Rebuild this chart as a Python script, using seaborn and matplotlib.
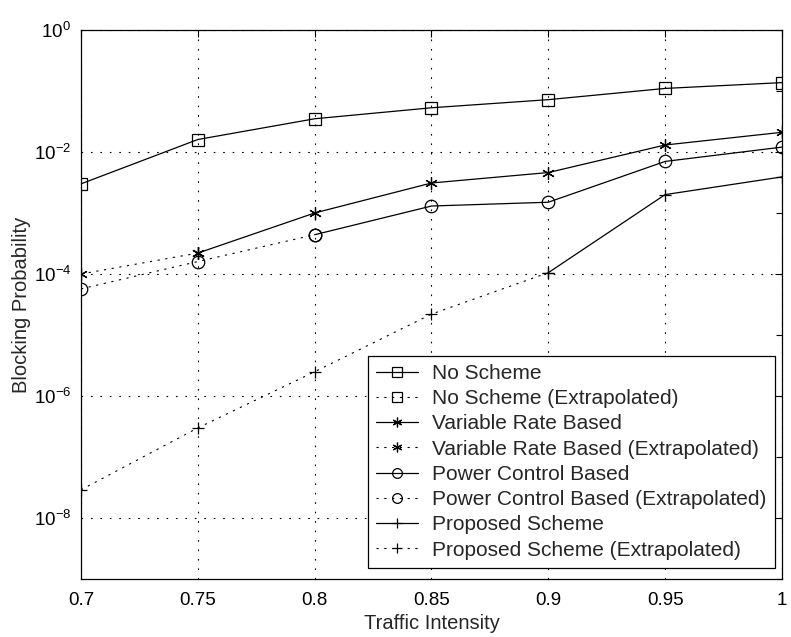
import numpy as np
import pandas as pd
import seaborn as sns
import matplotlib
matplotlib.use("Agg")
import matplotlib.pyplot as plt
from matplotlib.lines import Line2D
from matplotlib.ticker import FixedLocator, NullFormatter

traffic = [0.70, 0.75, 0.80, 0.85, 0.90, 0.95, 1.00]

no_scheme = [3.0e-3, 1.6e-2, 3.5e-2, 5.3e-2, 7.2e-2, 1.1e-1, 1.37e-1]
variable_rate = [1.0e-4, 2.2e-4, 1.0e-3, 3.1e-3, 4.6e-3, 1.3e-2, 2.1e-2]
power_control = [5.7e-5, 1.6e-4, 4.4e-4, 1.3e-3, 1.5e-3, 7.0e-3, 1.2e-2]
proposed = [2.9e-8, 3.0e-7, 2.5e-6, 2.2e-5, 1.05e-4, 2.0e-3, 3.9e-3]

# index of first measured (non-extrapolated) point per series
first_measured = {"No Scheme": 0, "Variable Rate Based": 1,
                  "Power Control Based": 2, "Proposed Scheme": 4}

series = {"No Scheme": (no_scheme, "s"),
          "Variable Rate Based": (variable_rate, (6, 2, 0)),
          "Power Control Based": (power_control, "o"),
          "Proposed Scheme": (proposed, "+")}

legend_labels = ["No Scheme", "No Scheme (Extrapolated)",
                 "Variable Rate Based", "Variable Rate Based (Extrapolated)",
                 "Power Control Based", "Power Control Based (Extrapolated)",
                 "Proposed Scheme", "Proposed Scheme (Extrapolated)"]

x_tick_labels = ["0.7", "0.75", "0.8", "0.85", "0.9", "0.95", "1"]

sns.set_style("white")
plt.rcParams["font.family"] = ["Liberation Sans", "DejaVu Sans"]
plt.rcParams["mathtext.fontset"] = "custom"
plt.rcParams["mathtext.rm"] = "Liberation Sans"

fig = plt.figure(figsize=(7.91, 6.37), dpi=100)
ax = fig.add_axes([0.1024, 0.091, 0.8862, 0.862])

dotted = (0, (2, 5))
msize = 9
handles = []
for name, (vals, mk) in series.items():
    k = first_measured[name]
    fill = "none"
    if k > 0:
        dfe = pd.DataFrame({"x": traffic[:k + 1], "y": vals[:k + 1]})
        sns.lineplot(data=dfe, x="x", y="y", ax=ax, color="black", lw=0.8,
                     linestyle=dotted, marker=mk, markersize=msize,
                     markerfacecolor=fill, markeredgecolor="black",
                     markeredgewidth=0.9, sort=False)
    dfm = pd.DataFrame({"x": traffic[k:], "y": vals[k:]})
    sns.lineplot(data=dfm, x="x", y="y", ax=ax, color="black", lw=0.9,
                 linestyle="-", marker=mk, markersize=msize,
                 markerfacecolor=fill, markeredgecolor="black",
                 markeredgewidth=0.9, sort=False)
    handles.append(Line2D([], [], color="black", lw=0.9, linestyle="-",
                          marker=mk, markersize=7, markerfacecolor=fill,
                          markeredgecolor="black", markeredgewidth=0.9))
    handles.append(Line2D([], [], color="black", lw=0.8, linestyle=dotted,
                          marker=mk, markersize=7, markerfacecolor=fill,
                          markeredgecolor="black", markeredgewidth=0.9))

ax.set_yscale("log")
ax.set_xlim(0.7, 1.0)
ax.set_ylim(1e-9, 1e0)
ax.set_xticks(traffic)
ax.set_xticklabels(x_tick_labels)
ax.yaxis.set_major_locator(FixedLocator([1e-8, 1e-6, 1e-4, 1e-2, 1e0]))
ax.set_yticklabels([r"$10^{-8}$", r"$10^{-6}$", r"$10^{-4}$", r"$10^{-2}$", r"$10^{0}$"])
ax.yaxis.set_minor_locator(FixedLocator([1e-9, 1e-7, 1e-5, 1e-3, 1e-1]))
ax.yaxis.set_minor_formatter(NullFormatter())

ax.tick_params(which="both", direction="in", top=True, right=True,
               labelsize=13.5, colors="black", length=5, width=0.8)
ax.tick_params(axis="x", which="major", pad=9)
ax.tick_params(axis="y", which="major", pad=7)
ax.tick_params(which="minor", length=4)
ax.grid(True, which="major", color="black", linestyle=(0, (1.5, 7)), lw=0.8)
for s in ax.spines.values():
    s.set_color("black")
    s.set_linewidth(0.9)

ax.set_xlabel("Traffic Intensity", fontsize=14.5, labelpad=4)
ax.set_ylabel("Blocking Probability", fontsize=14.5, labelpad=2)

leg = ax.legend(handles, legend_labels, loc="lower right",
                bbox_to_anchor=(0.99, 0.02), fontsize=15, frameon=True,
                fancybox=False, edgecolor="black", framealpha=1,
                handlelength=2.0, handletextpad=0.7, labelspacing=0.3,
                borderpad=0.4, borderaxespad=0.0)
leg.get_frame().set_linewidth(0.9)

fig.savefig("out.png", dpi=100)
